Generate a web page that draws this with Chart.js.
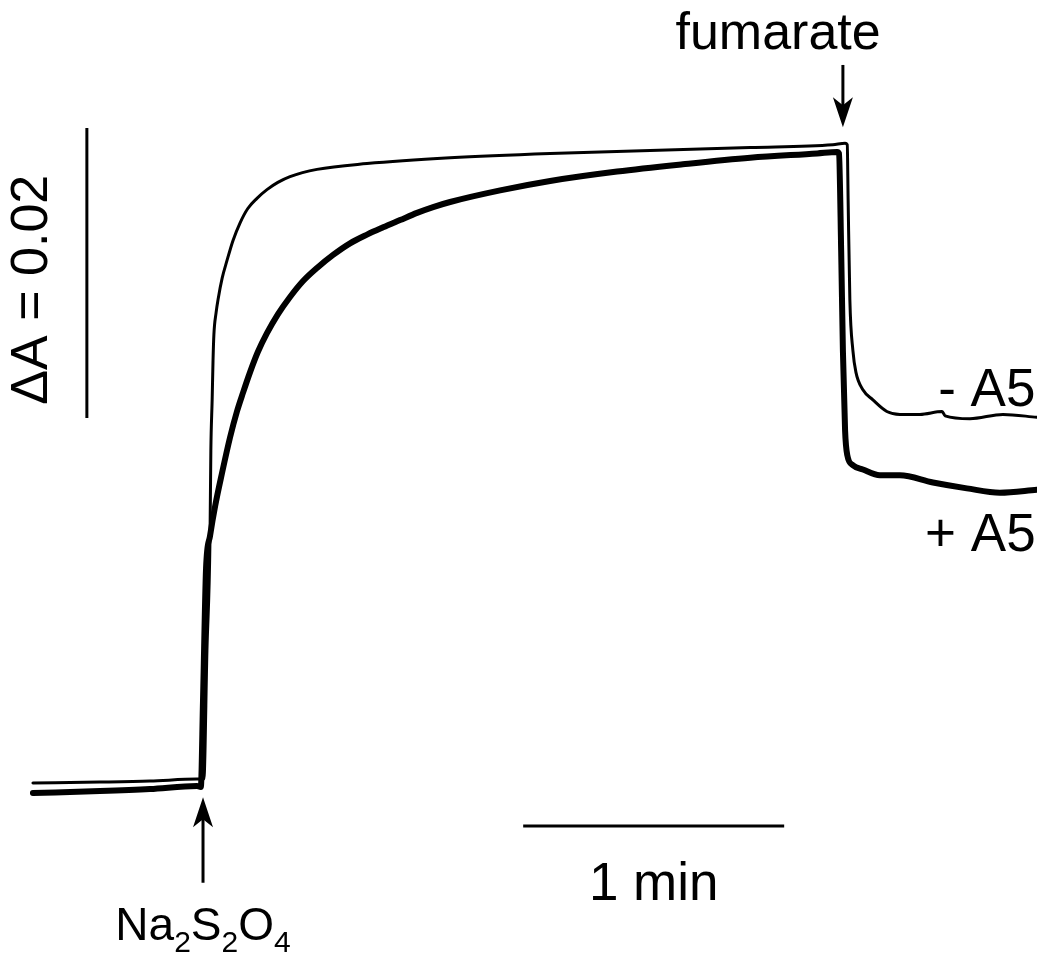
<!DOCTYPE html>
<html>
<head>
<meta charset="utf-8">
<script src="https://cdn.jsdelivr.net/npm/chart.js@4"></script>
<style>
  body { margin: 0; background: #fff; }
  canvas { display: block; }
</style>
</head>
<body>
<canvas id="myChart" width="1037" height="958"></canvas>
<script>
// time in s (0 = dithionite addition), absorbance change in units of 0.001
const timeMinusA5 = [-39.1, -23.7, -12.2, -1.4, 0.2, 0.9, 1.6, 1.8, 2.1, 2.3, 2.5, 3.0, 3.5, 4.4, 5.5, 6.9, 8.5, 10.3, 12.4, 14.7, 17.2, 20.0, 26.2, 37.7, 56.8, 79.8, 102.8, 125.8, 144.8, 147.6, 148.1, 148.3, 148.7, 149.4, 150.1, 151.7, 154.0, 157.2, 160.2, 164.8, 169.9, 170.6, 176.3, 183.9, 191.7];
const absMinusA5 = [0.28, 0.34, 0.41, 0.55, 0.55, 9.4, 17.0, 23.2, 26.7, 29.4, 31.2, 32.7, 33.7, 35.1, 36.3, 37.7, 38.9, 39.9, 40.6, 41.2, 41.7, 42.1, 42.6, 43.0, 43.4, 43.7, 43.9, 44.1, 44.3, 44.4, 44.3, 40.5, 33.6, 30.1, 28.6, 27.4, 26.7, 25.9, 25.7, 25.7, 25.9, 25.6, 25.4, 25.7, 25.5];

const timePlusA5 = [-39.1, -23.7, -12.2, -1.4, -0.5, 0.0, 0.7, 1.6, 2.8, 4.4, 6.2, 7.8, 9.2, 10.8, 12.6, 14.7, 17.2, 20.0, 23.0, 26.2, 29.9, 33.8, 37.7, 41.4, 45.3, 49.2, 52.9, 56.8, 68.3, 79.8, 95.2, 110.3, 125.8, 141.2, 145.8, 146.2, 146.7, 147.1, 147.6, 148.1, 149.4, 151.7, 155.6, 160.2, 167.8, 175.6, 183.2, 191.7];
const absPlusA5 = [-0.41, -0.28, -0.14, 0.07, 0.0, 6.0, 15.1, 17.3, 19.4, 21.7, 24.1, 25.9, 27.2, 28.6, 30.0, 31.3, 32.6, 33.8, 34.9, 35.8, 36.7, 37.5, 38.1, 38.6, 39.1, 39.6, 40.0, 40.35, 41.15, 41.8, 42.45, 42.95, 43.4, 43.7, 43.8, 43.7, 37.0, 30.1, 24.6, 22.9, 22.2, 21.9, 21.5, 21.5, 21.0, 20.6, 20.3, 20.5];

const seriesLabels = ['- A5', '+ A5'];
const additions = ['Na2S2O4', 'fumarate'];
const additionTimes = [0, 147.1];
const scaleBarTime = 60;      // s
const scaleBarAbs = 20;       // 0.02 ΔA

const toPoints = (xs, ys) => xs.map((x, i) => ({ x: x, y: ys[i] }));

const font = (px) => px + 'px "Liberation Sans", Arial, sans-serif';

function arrow(ctx, x, y0, y1) {
  // shaft from y0 to tip y1
  const dir = y1 > y0 ? 1 : -1;
  ctx.beginPath();
  ctx.moveTo(x, y0);
  ctx.lineTo(x, y1 - dir * 20);
  ctx.lineWidth = 3;
  ctx.stroke();
  ctx.beginPath();
  ctx.moveTo(x, y1);
  ctx.lineTo(x - 10, y1 - dir * 30);
  ctx.lineTo(x, y1 - dir * 22);
  ctx.lineTo(x + 10, y1 - dir * 30);
  ctx.closePath();
  ctx.fill();
}

const annotations = {
  id: 'annotations',
  afterDraw(chart) {
    const ctx = chart.ctx;
    const xs = chart.scales.x, ys = chart.scales.y;
    const X = (v) => xs.getPixelForValue(v);
    const Y = (v) => ys.getPixelForValue(v);
    ctx.save();
    ctx.fillStyle = '#000';
    ctx.strokeStyle = '#000';
    ctx.lineCap = 'butt';

    // ΔA scale bar
    ctx.lineWidth = 3;
    ctx.beginPath();
    ctx.moveTo(X(-26.7), Y(45.45));
    ctx.lineTo(X(-26.7), Y(45.45 - scaleBarAbs));
    ctx.stroke();
    ctx.save();
    ctx.translate(X(-39.1), Y(34.3));
    ctx.rotate(-Math.PI / 2);
    ctx.font = font(52);
    ctx.textAlign = 'center';
    ctx.textBaseline = 'middle';
    ctx.fillText('ΔA = 0.02', 0, 0);
    ctx.restore();

    // time scale bar
    ctx.beginPath();
    ctx.moveTo(X(73.6), Y(-2.69));
    ctx.lineTo(X(73.6 + scaleBarTime), Y(-2.69));
    ctx.stroke();
    ctx.font = font(53);
    ctx.textAlign = 'center';
    ctx.textBaseline = 'alphabetic';
    ctx.fillText('1 min', X(73.6 + scaleBarTime / 2), Y(-7.8));

    // additions
    arrow(ctx, X(additionTimes[0]), Y(-6.6), Y(-0.7));
    arrow(ctx, X(additionTimes[1]), Y(49.8), Y(45.5));
    ctx.font = font(52);
    ctx.fillText(additions[1], X(132.2), Y(50.9));

    // Na2S2O4 with subscripts
    const parts = [['Na', 0], ['2', 1], ['S', 0], ['2', 1], ['O', 0], ['4', 1]];
    const big = 46, small = 30;
    let total = 0;
    parts.forEach(([t, sub]) => {
      ctx.font = font(sub ? small : big);
      total += ctx.measureText(t).width;
    });
    let x = X(additionTimes[0]) - total / 2;
    const base = Y(-10.55);
    ctx.textAlign = 'left';
    parts.forEach(([t, sub]) => {
      ctx.font = font(sub ? small : big);
      ctx.fillText(t, x, sub ? base + 12 : base);
      x += ctx.measureText(t).width;
    });

    // series labels
    ctx.font = font(53);
    ctx.fillText(seriesLabels[0], X(169.0), Y(26.3));
    ctx.fillText(seriesLabels[1], X(166.0), Y(16.3));
    ctx.restore();
  }
};

const data = {
  datasets: [
    {
      label: seriesLabels[0],
      data: toPoints(timeMinusA5, absMinusA5),
      borderColor: '#000',
      borderWidth: 3,
    },
    {
      label: seriesLabels[1],
      data: toPoints(timePlusA5, absPlusA5),
      borderColor: '#000',
      borderWidth: 6,
    },
  ]
};

const config = {
  type: 'line',
  data: data,
  options: {
    responsive: false,
    animation: false,
    layout: { padding: 0 },
    elements: {
      point: { radius: 0 },
      line: { cubicInterpolationMode: 'monotone', borderJoinStyle: 'round', borderCapStyle: 'round' }
    },
    scales: {
      x: { type: 'linear', min: -46.67, max: 191.72, display: false },
      y: { type: 'linear', min: -11.79, max: 54.28, display: false }
    },
    plugins: {
      legend: { display: false },
      tooltip: { enabled: false }
    }
  },
  plugins: [annotations]
};

const myChart = new Chart(document.getElementById('myChart'), config);
</script>
</body>
</html>
